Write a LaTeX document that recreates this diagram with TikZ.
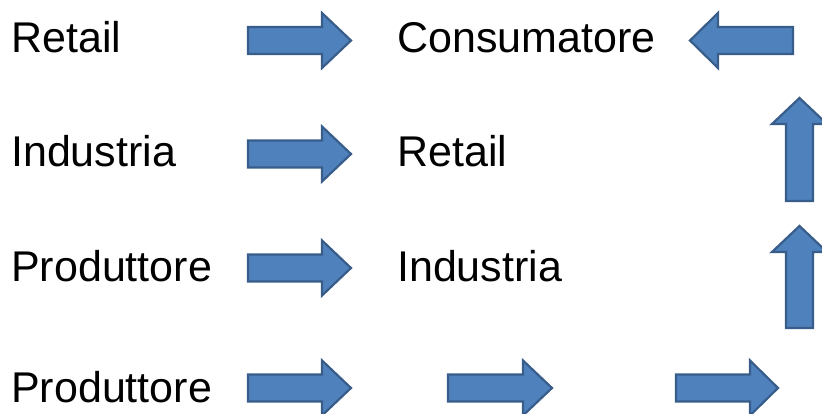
\documentclass[tikz,border=0pt]{standalone}
\usepackage{fontspec}
\setmainfont{Liberation Sans}
\definecolor{arrowfill}{HTML}{4F81BD}
\definecolor{arrowline}{HTML}{385D8A}
\newcommand\harrow[4]{\draw[blockarrow] (#1,#4-13.5) -- (#3,#4-13.5) -- (#3,#4-27.5) -- (#2,#4) -- (#3,#4+27.5) -- (#3,#4+13.5) -- (#1,#4+13.5) -- cycle;}
\newcommand\varrow[4]{\draw[blockarrow] (#4-13.5,#1) -- (#4-13.5,#3) -- (#4-27.5,#3) -- (#4,#2) -- (#4+27.5,#3) -- (#4+13.5,#3) -- (#4+13.5,#1) -- cycle;}
\begin{document}
\begin{tikzpicture}[x=1pt,y=-1pt,
  blockarrow/.style={fill=arrowfill,draw=arrowline,line width=2.2pt,line join=miter},
  lbl/.style={anchor=base west,inner sep=0pt,font=\fontsize{43}{50}\selectfont}]
\useasboundingbox (0,0) rectangle (822,414);
% labels
\node[lbl] (l1) at (11,53) {Retail};
\node[lbl] (r1) at (397,53) {Consumatore};
\node[lbl] (l2) at (11,167) {Industria};
\node[lbl] (r2) at (397,167) {Retail};
\node[lbl] (l3) at (11,281) {Produttore};
\node[lbl] (r3) at (397,281) {Industria};
\node[lbl] (l4) at (11,402) {Produttore};
% arrows
\harrow{248}{351}{322}{40.5}
\harrow{248}{351}{322}{154}
\harrow{248}{351}{322}{268}
\harrow{248}{351}{322}{388}
\harrow{448}{552}{523}{388}
\harrow{676}{778}{750}{388}
\harrow{793}{690}{718}{40.5}
\varrow{201}{98}{124}{799.5}
\varrow{328}{226}{252}{799.5}
\end{tikzpicture}
\end{document}
